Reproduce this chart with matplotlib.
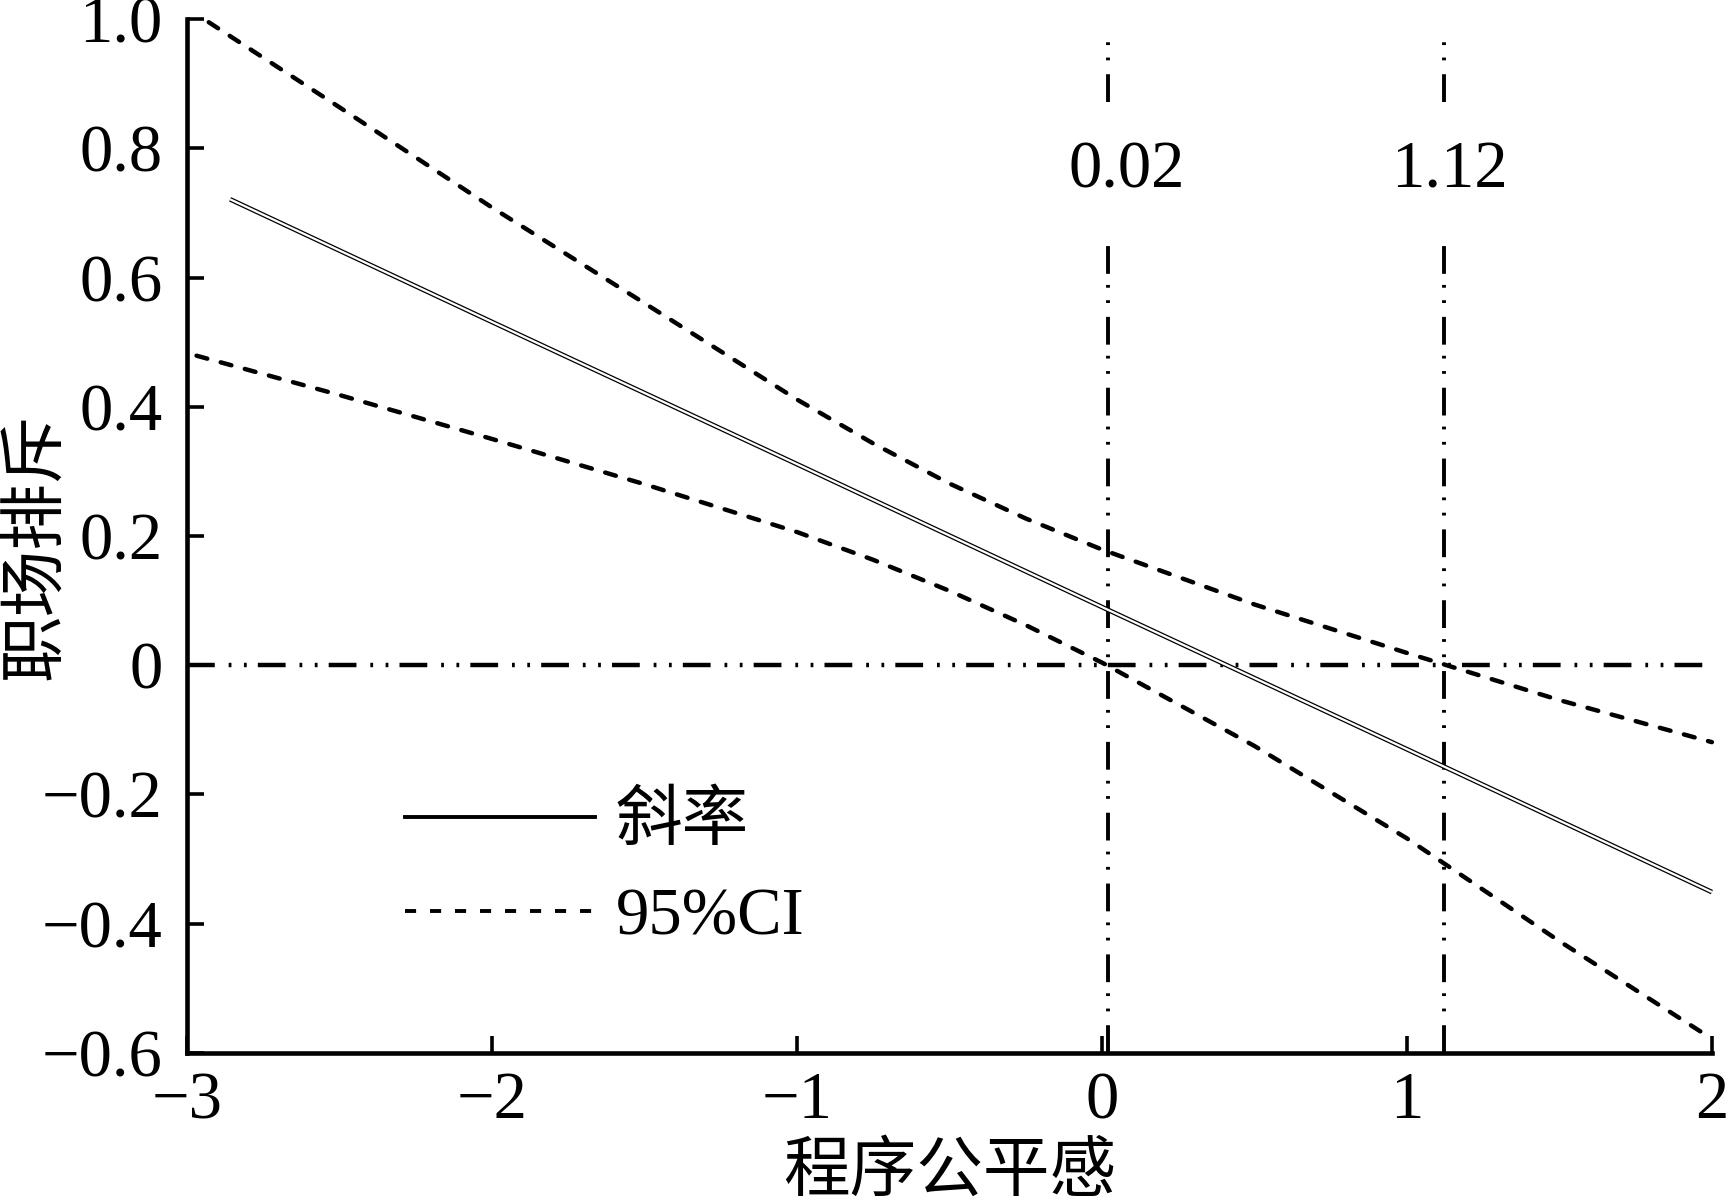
import numpy as np
import matplotlib
matplotlib.use("Agg")
import matplotlib.pyplot as plt
from matplotlib.lines import Line2D

plt.rcParams["font.family"] = ["Liberation Serif", "Noto Sans CJK SC"]
plt.rcParams["lines.scale_dashes"] = False

# Johnson-Neyman 区间数据
slope_x = [-2.86, -2.0, -1.0, 0.0, 1.0, 2.0]
slope_y = [0.721, 0.531, 0.311, 0.090, -0.130, -0.351]

upper_x = [-2.93, -2.5, -2.0, -1.5, -1.0, -0.75, -0.5, -0.25, 0.0, 0.5, 1.0, 1.5, 2.0]
upper_y = [0.995, 0.863, 0.708, 0.560, 0.411, 0.343, 0.281, 0.227, 0.179, 0.094, 0.019, -0.054, -0.119]

lower_x = [-2.97, -2.5, -2.0, -1.5, -1.0, -0.75, -0.5, -0.25, 0.0, 0.5, 1.0, 1.5, 2.0]
lower_y = [0.479, 0.418, 0.350, 0.280, 0.206, 0.163, 0.115, 0.062, 0.004, -0.125, -0.268, -0.427, -0.578]

jn_points = [0.02, 1.12]
jn_labels = ["0.02", "1.12"]

xticks = [-3, -2, -1, 0, 1, 2]
xticklabels = ["\u22123", "\u22122", "\u22121", "0", "1", "2"]
yticks = [-0.6, -0.4, -0.2, 0.0, 0.2, 0.4, 0.6, 0.8, 1.0]
yticklabels = ["\u22120.6", "\u22120.4", "\u22120.2", "0", "0.2", "0.4", "0.6", "0.8", "1.0"]

FS = 48
dash_ci = (0, (8, 10))
dash_dd = (0, (20, 10, 2, 9, 2, 8))

fig = plt.figure(figsize=(17.29, 12.03), dpi=100)
ax = fig.add_axes([0.1084, 0.1247, 0.8817, 0.8595])

# zero line
ax.plot([-3, 1.97], [0, 0], color="black", lw=3.2, linestyle=dash_dd, clip_on=False)

# J-N vertical lines with a gap for the label
for xv, lab, off in zip(jn_points, jn_labels, [13, 4]):
    ax.plot([xv, xv], [-0.6, 0.664], color="black", lw=2.8, linestyle=dash_dd, clip_on=False)
    ax.plot([xv, xv], [0.871, 0.966], color="black", lw=2.8, linestyle=dash_dd, clip_on=False)
    ax.annotate(lab, (xv, 0.765), xytext=(off, 0), textcoords="offset points",
                ha="center", va="center", fontsize=FS)

# CI
ax.plot(upper_x, upper_y, color="black", lw=3.2, linestyle=dash_ci,
        dash_capstyle="round", clip_on=False)
ax.plot(lower_x, lower_y, color="black", lw=3.2, linestyle=dash_ci,
        dash_capstyle="round", clip_on=False)

# slope (double thin line)
ax.plot(slope_x, slope_y, color="black", lw=3.4, solid_capstyle="butt", clip_on=False)
ax.plot(slope_x, slope_y, color="white", lw=1.6, solid_capstyle="butt", clip_on=False)

ax.set_xlim(-3, 2)
ax.set_ylim(-0.6, 1.0)
ax.set_xticks(xticks)
ax.set_xticklabels(xticklabels)
ax.set_yticks(yticks)
ax.set_yticklabels(yticklabels)
ax.tick_params(axis="both", direction="in", length=12, width=2.6, labelsize=FS)
ax.tick_params(axis="y", pad=18)
ax.tick_params(axis="x", pad=13)
for s in ["top", "right"]:
    ax.spines[s].set_visible(False)
for s in ["left", "bottom"]:
    ax.spines[s].set_linewidth(3.3)

ax.set_xlabel("程序公平感", fontsize=FS, labelpad=8)
ax.set_ylabel("职场排斥", fontsize=FS)
ax.yaxis.set_label_coords(-0.078, 0.49)

handles = [Line2D([], [], color="black", lw=2.8),
           Line2D([], [], color="black", lw=2.8, linestyle=dash_ci)]
ax.legend(handles, ["斜率", "95%CI"], loc="upper left", bbox_to_anchor=(0.143, 0.252),
          frameon=False, fontsize=FS, handlelength=2.85, handletextpad=0.3,
          borderpad=0, borderaxespad=0, labelspacing=0.5)

fig.savefig("out.png", dpi=100)
